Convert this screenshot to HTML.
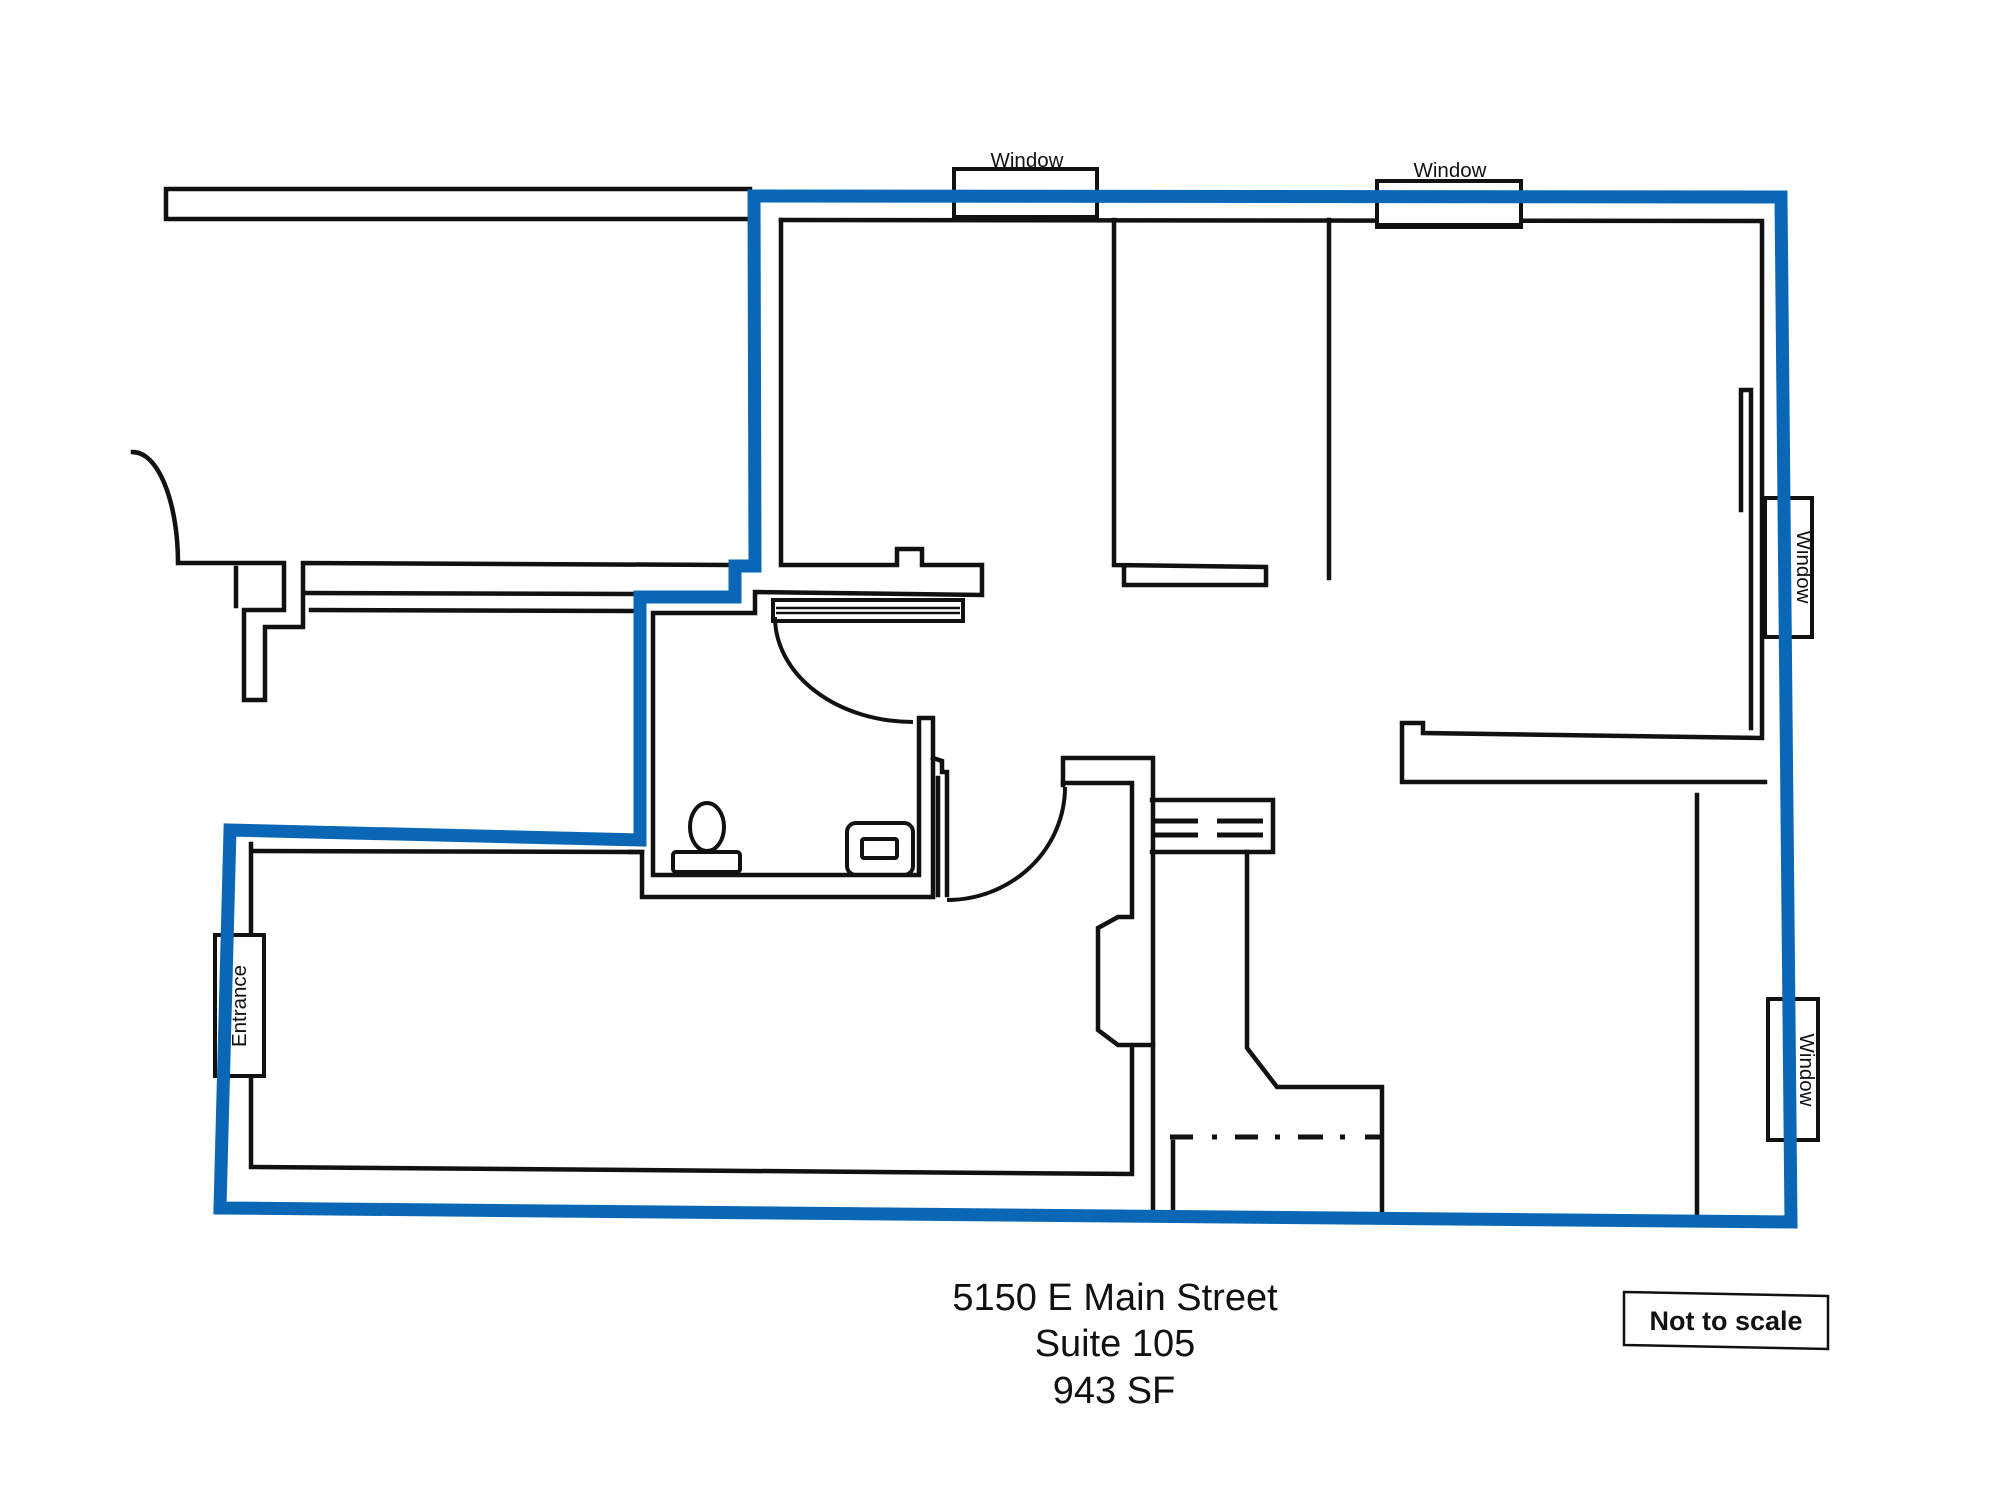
<!DOCTYPE html>
<html><head><meta charset="utf-8"><style>
html,body{margin:0;padding:0;background:#fff;}
svg{display:block;}
text{font-family:"Liberation Sans",Arial,sans-serif;fill:#111;}
</style></head><body>
<svg width="2000" height="1500" viewBox="0 0 2000 1500" xmlns="http://www.w3.org/2000/svg">
<rect width="2000" height="1500" fill="#fff"/>
<g fill="none" stroke="#111" stroke-width="4.5" stroke-linejoin="miter" stroke-linecap="square">
  <!-- top-left long rect -->
  <path d="M750,189 L166,189 L166,219 L750,219"/>
  <!-- left curve & shaft -->
  <path d="M133,452 A45,111 0 0 1 178,563 L284,563 L284,610 L244,610 L244,700 L265,700 L265,627 L303,627 L303,563 L729,565"/>
  <path d="M305,593 L634,594"/>
  <path d="M311,610 L634,611"/>
  <path d="M236,568 L236,606"/>
  <!-- main room -->
  <path d="M781,220 L1762,221 L1762,738 L1423,733 L1423,723 L1402,723 L1402,782 L1765,782"/>
  <path d="M781,220 L781,565 L897,565 L897,549 L922,549 L922,565 L982,565 L982,595 L755,592 L755,613 L653,613 L653,875 L919,875 L919,718 L933,718 L933,897 L642,897 L642,852 L255,851"/>
  <path d="M630,852 L642,852"/>
  <!-- jamb -->
  <path d="M933,758 L942,761 L942,772 L947,772 L947,895"/>
  <path d="M938,778 L938,895"/>
  <!-- walls -->
  <path d="M1114,220 L1114,565 L1266,567 L1266,585 L1124,585 L1124,567"/>
  <path d="M1329,220 L1329,578"/>
  <path d="M1741,510 L1741,390 L1751,390 L1751,728"/>
  <path d="M1697,795 L1697,1217"/>
  <!-- door frame / fridge -->
  <path d="M1063,785 L1063,758 L1153,758 L1153,1212"/>
  <path d="M1063,783 L1132,783 L1132,917 L1118,917 L1098,928 L1098,1030 L1118,1045 L1153,1045"/>
  <path d="M1132,1048 L1132,1174 L251,1167 L251,1080"/>
  <path d="M251,844 L251,935"/>
  <!-- stairs -->
  <path d="M1152,800 L1273,800 L1273,852 L1152,852"/>
  <path d="M1247,852 L1247,1048 L1277,1087 L1382,1087 L1382,1213"/>
  <path d="M1173,1142 L1173,1212"/>
</g>
<g stroke="#111" stroke-width="5" fill="none">
  <path d="M1155,821 L1198,821 M1217,821 L1263,821 M1155,835 L1198,835 M1217,835 L1263,835"/>
  <path d="M1170,1137 L1193,1137 M1212,1137 L1217,1137 M1235,1137 L1258,1137 M1275,1137 L1280,1137 M1298,1137 L1323,1137 M1340,1137 L1345,1137 M1365,1137 L1380,1137"/>
</g>
<g fill="none" stroke="#111" stroke-width="4">
  <!-- sliding door -->
  <rect x="773" y="600" width="190" height="21"/>
  <path d="M776,608 L960,608 M776,613 L960,613" stroke-width="2.5"/>
  <!-- door arcs -->
  <path d="M775,617 A138,105 0 0 0 913,722"/>
  <path d="M947,900 A118,113 0 0 0 1065,787"/>
  <!-- toilet -->
  <ellipse cx="707" cy="827" rx="17" ry="24"/>
  <rect x="673" y="852" width="67" height="20" rx="3"/>
  <!-- sink -->
  <rect x="847" y="823" width="66" height="52" rx="9"/>
  <rect x="862" y="839" width="35" height="19" rx="2"/>
</g>
<!-- windows boxes -->
<g fill="#fff" stroke="#111" stroke-width="4">
  <rect x="954" y="169" width="143" height="49"/>
  <rect x="1377" y="181" width="144" height="46"/>
  <rect x="1765" y="498" width="47" height="139"/>
  <rect x="1768" y="999" width="50" height="141"/>
  <rect x="215" y="935" width="49" height="141"/>
</g>
<path d="M954,218 L1097,218 M1377,226 L1521,226" stroke="#111" stroke-width="6"/>
<!-- blue boundary -->
<path d="M754,196 L1781,197 L1791,1222 L220,1208 L230,830 L640,840 L640,597 L735,597 L735,566 L755,566 Z" fill="none" stroke="#0a67b6" stroke-width="13" stroke-linejoin="miter"/>
<!-- labels -->
<text x="1027" y="167" font-size="20.5" text-anchor="middle">Window</text>
<text x="1450" y="177" font-size="20.5" text-anchor="middle">Window</text>
<text transform="translate(1797,567) rotate(90)" font-size="20.5" text-anchor="middle">Window</text>
<text transform="translate(1800,1070) rotate(90)" font-size="20.5" text-anchor="middle">Window</text>
<text transform="translate(246,1006) rotate(-90)" font-size="20.5" text-anchor="middle">Entrance</text>
<text x="1115" y="1310" font-size="38" text-anchor="middle">5150 E Main Street</text>
<text x="1115" y="1356" font-size="38" text-anchor="middle">Suite 105</text>
<text x="1114" y="1403" font-size="38" text-anchor="middle">943 SF</text>
<path d="M1624,1292 L1828,1296 L1828,1349 L1624,1345 Z" fill="none" stroke="#111" stroke-width="2.5"/>
<text x="1726" y="1330" font-size="27" font-weight="bold" text-anchor="middle">Not to scale</text>
</svg>
</body></html>
